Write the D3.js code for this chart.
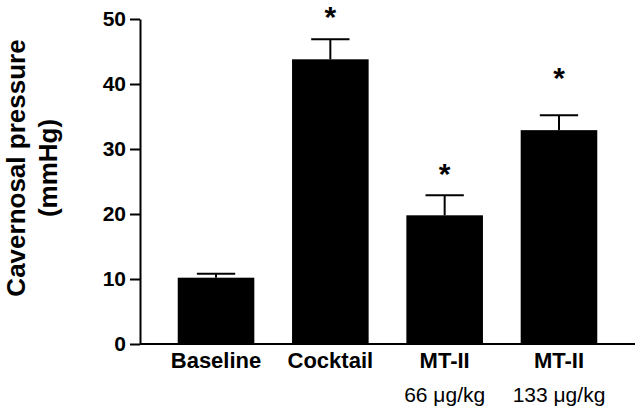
<!DOCTYPE html>
<html>
<head>
<meta charset="utf-8">
<script src="https://cdn.jsdelivr.net/npm/d3@7"></script>
<style>
  body { margin: 0; background: #fff; }
  text { font-family: "Liberation Sans", Arial, sans-serif; }
</style>
</head>
<body>
<svg id="chart" width="640" height="410"></svg>
<script>
// Cavernosal pressure bar chart
const categories = ["Baseline", "Cocktail", "MT-II", "MT-II"];
const subLabels = ["", "", "66 \u03bcg/kg", "133 \u03bcg/kg"];
const means = [10.2, 43.8, 19.8, 32.9];
const errors = [0.6, 3.1, 3.1, 2.3];
// where the significance star sits (in mmHg), null = none
const stars = [null, 51.0, 26.8, 41.5];
const yTicks = [0, 10, 20, 30, 40, 50];

const svg = d3.select("#chart");
const margin = { top: 19, right: 5, bottom: 66, left: 140 };
const width = +svg.attr("width");
const height = +svg.attr("height");

const x = d3.scaleBand()
  .domain(d3.range(categories.length))
  .range([margin.left, width - margin.right])
  .paddingInner(0.33)
  .paddingOuter(0.33);

const y = d3.scaleLinear()
  .domain([0, 50])
  .range([height - margin.bottom, margin.top]);

// bars
svg.append("g")
  .selectAll("rect")
  .data(means)
  .join("rect")
  .attr("x", (d, i) => x(i))
  .attr("y", (d) => y(d))
  .attr("width", x.bandwidth())
  .attr("height", (d) => y(0) - y(d))
  .attr("fill", "#000");

// error bars (upper only)
const capW = x.bandwidth() / 2;
const err = svg.append("g")
  .attr("stroke", "#000")
  .attr("stroke-width", 2);

err.selectAll("line.v")
  .data(means)
  .join("line")
  .attr("class", "v")
  .attr("x1", (d, i) => x(i) + x.bandwidth() / 2)
  .attr("x2", (d, i) => x(i) + x.bandwidth() / 2)
  .attr("y1", (d) => y(d))
  .attr("y2", (d, i) => y(d + errors[i]));

err.selectAll("line.cap")
  .data(means)
  .join("line")
  .attr("class", "cap")
  .attr("x1", (d, i) => x(i) + x.bandwidth() / 2 - capW / 2)
  .attr("x2", (d, i) => x(i) + x.bandwidth() / 2 + capW / 2)
  .attr("y1", (d, i) => y(d + errors[i]))
  .attr("y2", (d, i) => y(d + errors[i]));

// stars
svg.append("g")
  .selectAll("text")
  .data(stars.map((s, i) => ({ s, i })).filter((d) => d.s !== null))
  .join("text")
  .attr("x", (d) => x(d.i) + x.bandwidth() / 2)
  .attr("y", (d) => y(d.s) + 14)
  .attr("text-anchor", "middle")
  .attr("font-size", 30)
  .attr("font-weight", "bold")
  .text("*");

// y axis
const yAxis = svg.append("g")
  .attr("transform", `translate(${margin.left},0)`)
  .call(d3.axisLeft(y).tickValues(yTicks).tickSize(10).tickSizeOuter(0).tickPadding(4));
yAxis.select(".domain").attr("stroke-width", 2);
yAxis.selectAll(".tick line").attr("stroke-width", 2);
yAxis.selectAll(".tick text")
  .attr("font-size", 21)
  .attr("font-weight", "bold")
  .attr("font-family", "'Liberation Sans', Arial, sans-serif")
  .attr("fill", "#000");

// x axis line
svg.append("line")
  .attr("x1", margin.left)
  .attr("x2", width - margin.right)
  .attr("y1", y(0))
  .attr("y2", y(0))
  .attr("stroke", "#000")
  .attr("stroke-width", 2);

// category labels
svg.append("g")
  .selectAll("text")
  .data(categories)
  .join("text")
  .attr("x", (d, i) => x(i) + x.bandwidth() / 2)
  .attr("y", 368)
  .attr("text-anchor", "middle")
  .attr("font-size", 22)
  .attr("font-weight", "bold")
  .text((d) => d);

svg.append("g")
  .selectAll("text")
  .data(subLabels)
  .join("text")
  .attr("x", (d, i) => x(i) + x.bandwidth() / 2)
  .attr("y", 402)
  .attr("text-anchor", "middle")
  .attr("font-size", 21)
  .text((d) => d);

// y axis title
const title = svg.append("text")
  .attr("transform", "translate(25,168) rotate(-90)")
  .attr("text-anchor", "middle")
  .attr("font-size", 26)
  .attr("font-weight", "bold");
title.append("tspan").attr("x", 0).attr("y", 0).text("Cavernosal pressure");
title.append("tspan").attr("x", 0).attr("y", 32).text("(mmHg)");
</script>
</body>
</html>
